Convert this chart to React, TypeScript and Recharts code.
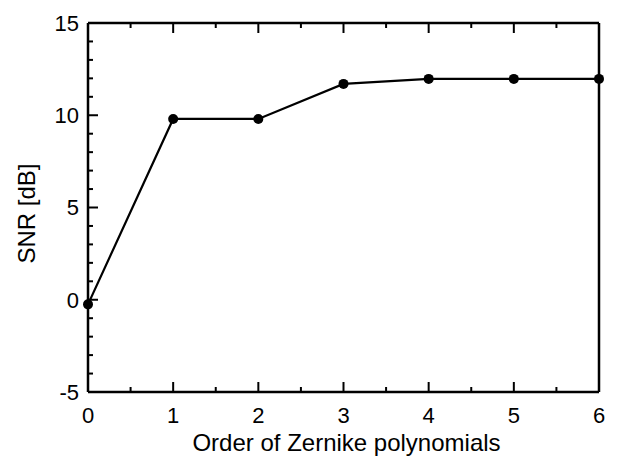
import React from 'react';
import { LineChart, Line, XAxis, YAxis } from 'recharts';

const orders = [0, 1, 2, 3, 4, 5, 6];
const snr = [-0.25, 9.8, 9.8, 11.7, 11.97, 11.97, 11.97];

const xTicks = [0, 0.5, 1, 1.5, 2, 2.5, 3, 3.5, 4, 4.5, 5, 5.5, 6];
const yTicks = [-5, -4, -3, -2, -1, 0, 1, 2, 3, 4, 5, 6, 7, 8, 9, 10, 11, 12, 13, 14, 15];
const xMajor = [0, 1, 2, 3, 4, 5, 6];
const yMajor = [-5, 0, 5, 10, 15];

const data = orders.map((o, i) => ({ order: o, snr: snr[i] }));

const FONT = '"Liberation Sans", Arial, sans-serif';

// ticks point inward; labels only on bottom / left
const makeTick = (side: 'bottom' | 'top' | 'left' | 'right') => (props: any) => {
  const { x, y, payload } = props;
  const v = payload.value;
  const major = side === 'bottom' || side === 'top' ? xMajor.includes(v) : yMajor.includes(v);
  const len = major ? 10 : 5;
  let line;
  if (side === 'bottom') line = <line x1={x} x2={x} y1={y} y2={y - len} />;
  else if (side === 'top') line = <line x1={x} x2={x} y1={y} y2={y + len} />;
  else if (side === 'left') line = <line x1={x} x2={x + len} y1={y} y2={y} />;
  else line = <line x1={x} x2={x - len} y1={y} y2={y} />;
  return (
    <g stroke="#000" strokeWidth={2}>
      {line}
      {major && side === 'bottom' && (
        <text x={x} y={y + 31} textAnchor="middle" fontSize={22} fontFamily={FONT} fill="#000" stroke="none">
          {v}
        </text>
      )}
      {major && side === 'left' && (
        <text x={x - 9} y={y} dy="0.36em" textAnchor="end" fontSize={22} fontFamily={FONT} fill="#000" stroke="none">
          {v}
        </text>
      )}
    </g>
  );
};

export default function App() {
  return (
    <div style={{ position: 'absolute', left: 0, top: 0, background: '#fff' }}>
      <LineChart width={617} height={456} data={data} margin={{ top: 0, right: 0, left: 0, bottom: 0 }}>
        <XAxis
          xAxisId="b"
          dataKey="order"
          type="number"
          domain={[0, 6]}
          ticks={xTicks}
          interval={0}
          height={64}
          tickSize={0}
          tickMargin={0}
          tickLine={false}
          tick={makeTick('bottom')}
          stroke="#000"
          strokeWidth={2.5}
          label={{
            content: (p: any) => {
              const vb = p.viewBox;
              return (
                <text x={vb.x + vb.width / 2 + 3} y={vb.y + 59} textAnchor="middle" fontSize={24} fontFamily={FONT} fill="#000">
                  Order of Zernike polynomials
                </text>
              );
            },
          }}
        />
        <XAxis
          xAxisId="t"
          orientation="top"
          dataKey="order"
          type="number"
          domain={[0, 6]}
          ticks={xTicks}
          interval={0}
          height={23}
          tickSize={0}
          tickMargin={0}
          tickLine={false}
          tick={makeTick('top')}
          stroke="#000"
          strokeWidth={2.5}
        />
        <YAxis
          yAxisId="l"
          type="number"
          domain={[-5, 15]}
          ticks={yTicks}
          interval={0}
          width={88}
          tickSize={0}
          tickMargin={0}
          tickLine={false}
          tick={makeTick('left')}
          stroke="#000"
          strokeWidth={2.5}
          label={{
            content: (p: any) => {
              const vb = p.viewBox;
              return (
                <text
                  transform={`translate(${vb.x + 35}, ${vb.y + vb.height / 2 + 6}) rotate(-90)`}
                  textAnchor="middle"
                  fontSize={24}
                  fontFamily={FONT}
                  fill="#000"
                >
                  SNR [dB]
                </text>
              );
            },
          }}
        />
        <YAxis
          yAxisId="r"
          orientation="right"
          type="number"
          domain={[-5, 15]}
          ticks={yTicks}
          interval={0}
          width={18}
          tickSize={0}
          tickMargin={0}
          tickLine={false}
          tick={makeTick('right')}
          stroke="#000"
          strokeWidth={2.5}
        />
        <Line
          xAxisId="b"
          yAxisId="l"
          dataKey="snr"
          type="linear"
          stroke="#000"
          strokeWidth={2.2}
          dot={{ r: 5, fill: '#000', stroke: 'none' }}
          activeDot={false}
          isAnimationActive={false}
        />
      </LineChart>
    </div>
  );
}
